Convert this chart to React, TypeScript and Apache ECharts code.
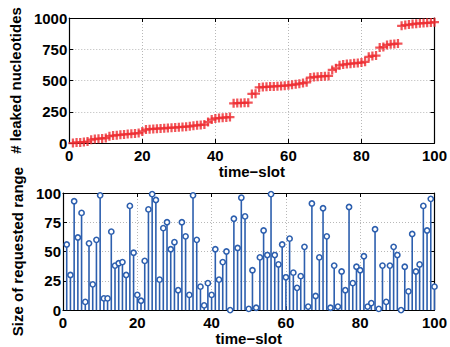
import React, { useEffect, useRef } from "react";
import * as echarts from "echarts";

const timeSlots: number[] = Array.from({ length: 100 }, (_, i) => i + 1);

const leaked: number[] = [
  0, 5, 5, 8, 12, 27, 32, 35, 37, 40,
  55, 60, 63, 66, 69, 72, 74, 77, 80, 93,
  108, 111, 113, 115, 117, 118, 121, 123, 124, 127,
  129, 131, 134, 139, 142, 145, 148, 168, 188, 197,
  200, 203, 205, 208, 318, 320, 321, 322, 323, 393,
  395, 445, 448, 450, 452, 453, 455, 457, 459, 462,
  466, 470, 475, 480, 486, 524, 528, 531, 533, 535,
  537, 585, 598, 622, 628, 632, 635, 638, 641, 644,
  650, 690, 697, 700, 764, 768, 785, 790, 793, 796,
  938, 944, 948, 952, 955, 958, 960, 962, 964, 967,
];

const rangeSize: number[] = [
  56, 30, 93, 62, 83, 7, 57, 22, 60, 98,
  10, 10, 67, 38, 40, 41, 30, 89, 49, 13,
  8, 42, 86, 99, 94, 26, 70, 75, 52, 58,
  17, 75, 63, 13, 98, 60, 20, 4, 23, 13,
  52, 26, 41, 50, 0, 78, 53, 96, 80, 1,
  34, 2, 45, 68, 47, 99, 47, 39, 56, 28,
  61, 32, 19, 29, 54, 3, 91, 12, 45, 87,
  63, 2, 38, 3, 33, 17, 88, 23, 37, 34,
  46, 3, 6, 69, 1, 38, 7, 38, 54, 47,
  0, 37, 16, 65, 33, 39, 89, 68, 95, 20,
];

const xTicks = [0, 20, 40, 60, 80, 100];
const topYTicks = [0, 250, 500, 750, 1000];
const bottomYTicks = [0, 25, 50, 75, 100];

const FONT = "'Liberation Sans', Arial, Helvetica, sans-serif";
const RED = "#ee2a30";
const BLUE = "#2d5fae";

export default function App() {
  const ref = useRef<HTMLDivElement>(null);

  useEffect(() => {
    if (!ref.current) return;
    const chart = echarts.init(ref.current, undefined, { renderer: "svg" });

    const labelStyle = { color: "#000", fontSize: 15, fontWeight: "bold" as const, fontFamily: FONT };
    const nameStyle = { color: "#000", fontSize: 15, fontWeight: "bold" as const, fontFamily: FONT };
    const gridLine = { show: true, lineStyle: { color: "#b8b8b8", type: [1, 2] as any, width: 1 } };

    const mainX = (gridIndex: number, gap: number) => ({
      type: "value" as const,
      gridIndex,
      min: 0,
      max: 100,
      interval: 20,
      name: "time\u2212slot",
      nameLocation: "middle" as const,
      nameGap: gap,
      nameTextStyle: nameStyle,
      axisLine: { show: true, onZero: false, lineStyle: { color: "#000", width: 1.2 } },
      axisTick: { show: true, inside: true, length: 4, lineStyle: { color: "#000" } },
      axisLabel: { ...labelStyle, margin: 5, formatter: (v: number) => (xTicks.includes(v) ? String(v) : "") },
      splitLine: gridLine,
    });
    const boxX = (gridIndex: number) => ({
      type: "value" as const,
      gridIndex,
      position: "top" as const,
      min: 0,
      max: 100,
      interval: 20,
      axisLine: { show: true, onZero: false, lineStyle: { color: "#000", width: 1.2 } },
      axisTick: { show: true, inside: true, length: 4, lineStyle: { color: "#000" } },
      axisLabel: { show: false },
      splitLine: { show: false },
    });
    const mainY = (gridIndex: number, max: number, interval: number, name: string, ticks: number[]) => ({
      type: "value" as const,
      gridIndex,
      min: 0,
      max,
      interval,
      name,
      nameLocation: "middle" as const,
      nameGap: 37,
      nameTextStyle: nameStyle,
      axisLine: { show: true, onZero: false, lineStyle: { color: "#000", width: 1.2 } },
      axisTick: { show: true, inside: true, length: 4, lineStyle: { color: "#000" } },
      axisLabel: { ...labelStyle, margin: 2, formatter: (v: number) => (ticks.includes(v) ? String(v) : "") },
      splitLine: gridLine,
    });
    const boxY = (gridIndex: number, max: number, interval: number) => ({
      type: "value" as const,
      gridIndex,
      position: "right" as const,
      min: 0,
      max,
      interval,
      axisLine: { show: true, onZero: false, lineStyle: { color: "#000", width: 1.2 } },
      axisTick: { show: true, inside: true, length: 4, lineStyle: { color: "#000" } },
      axisLabel: { show: false },
      splitLine: { show: false },
    });

    chart.setOption({
      animation: false,
      backgroundColor: "#fff",
      grid: [
        { left: 63, right: 9, top: 18, bottom: 204 },
        { left: 63, right: 9, top: 193, bottom: 30 },
      ],
      xAxis: [mainX(0, 17), boxX(0), mainX(1, 19), boxX(1)],
      yAxis: [
        mainY(0, 1000, 250, "# leaked nucleotides", topYTicks),
        boxY(0, 1000, 250),
        mainY(1, 100, 25, "Size of requested range", bottomYTicks),
        boxY(1, 100, 25),
      ],
      series: [
        {
          type: "scatter",
          xAxisIndex: 0,
          yAxisIndex: 0,
          data: timeSlots.map((t, i) => [t, leaked[i]]),
          symbol: "path://M-1,-4H1V-1H4V1H1V4H-1V1H-4V-1H-1Z",
          symbolSize: 9,
          itemStyle: { color: RED },
        },
        {
          type: "custom",
          xAxisIndex: 2,
          yAxisIndex: 2,
          data: timeSlots.map((t, i) => [t, rangeSize[i]]),
          renderItem: (params: any, api: any) => {
            const x = api.value(0);
            const y = api.value(1);
            const top = api.coord([x, y]);
            const base = api.coord([x, 0]);
            return {
              type: "group",
              children: [
                {
                  type: "line",
                  shape: { x1: base[0], y1: base[1], x2: top[0], y2: top[1] },
                  style: { stroke: BLUE, lineWidth: 1.6 },
                },
                {
                  type: "circle",
                  shape: { cx: top[0], cy: top[1], r: 2.6 },
                  style: { stroke: BLUE, lineWidth: 1.6, fill: "#fff" },
                },
              ],
            };
          },
        },
      ],
    });

    return () => chart.dispose();
  }, []);

  return (
    <div
      ref={ref}
      style={{ position: "fixed", left: 0, top: 0, width: 450, height: 347 }}
    />
  );
}
